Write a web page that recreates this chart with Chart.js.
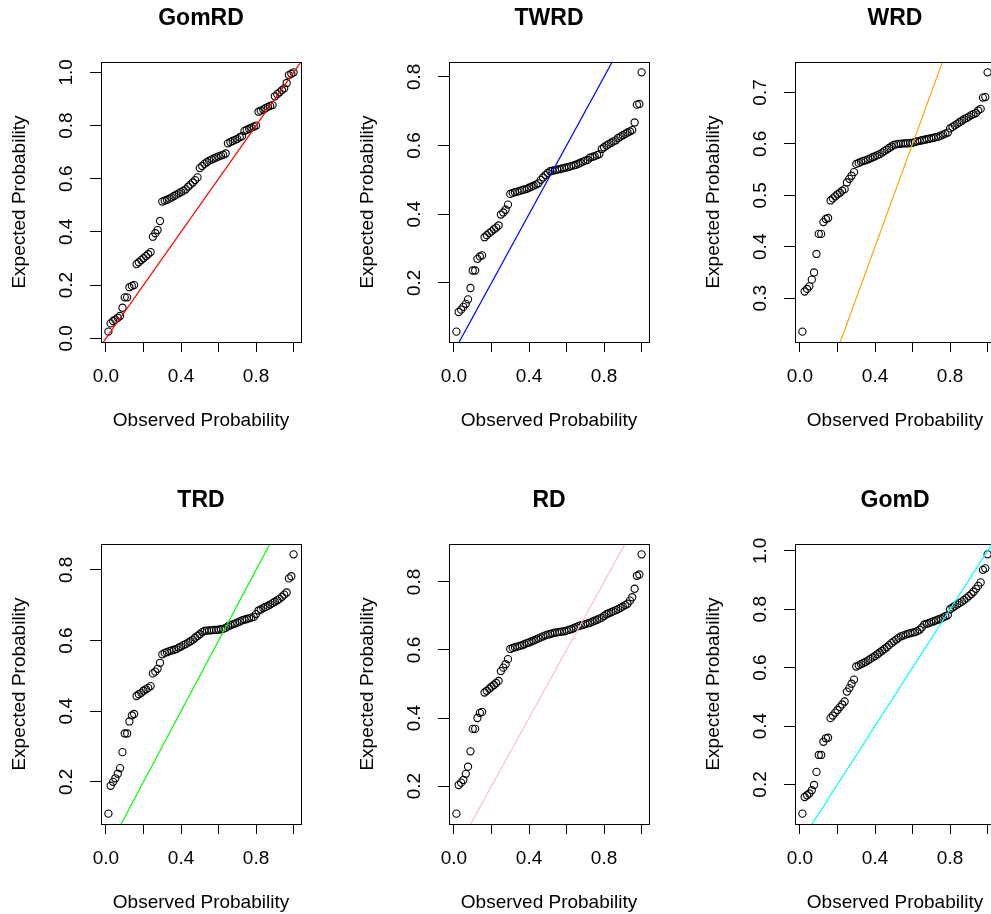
<!DOCTYPE html>
<html>
<head>
<meta charset="utf-8">
<title>P-P plots</title>
<script src="https://cdn.jsdelivr.net/npm/chart.js@4.4.1/dist/chart.umd.min.js"></script>
<style>
  html, body { margin: 0; padding: 0; background: #fff; }
  body { width: 991px; height: 914px; overflow: hidden; position: relative; }
  .panel { position: absolute; width: 347px; height: 440px; }
</style>
</head>
<body>
<div class="panel" style="left:0px;top:0px"><canvas id="c0" width="347" height="440"></canvas></div>
<div class="panel" style="left:348px;top:0px"><canvas id="c1" width="347" height="440"></canvas></div>
<div class="panel" style="left:694px;top:0px"><canvas id="c2" width="347" height="440"></canvas></div>
<div class="panel" style="left:0px;top:482px"><canvas id="c3" width="347" height="440"></canvas></div>
<div class="panel" style="left:348px;top:482px"><canvas id="c4" width="347" height="440"></canvas></div>
<div class="panel" style="left:694px;top:482px"><canvas id="c5" width="347" height="440"></canvas></div>
<script>
// Observed probabilities (same for every panel)
const observed = [
  0.013, 0.025, 0.038, 0.050, 0.063, 0.075, 0.088, 0.100, 0.113, 0.125,
  0.138, 0.150, 0.163, 0.175, 0.188, 0.200, 0.213, 0.225, 0.238, 0.250,
  0.263, 0.275, 0.288, 0.300, 0.313, 0.325, 0.338, 0.350, 0.363, 0.375,
  0.388, 0.400, 0.413, 0.425, 0.438, 0.450, 0.463, 0.475, 0.488, 0.500,
  0.513, 0.525, 0.538, 0.550, 0.563, 0.575, 0.588, 0.600, 0.613, 0.625,
  0.638, 0.650, 0.663, 0.675, 0.688, 0.700, 0.713, 0.725, 0.738, 0.750,
  0.763, 0.775, 0.788, 0.800, 0.813, 0.825, 0.838, 0.850, 0.863, 0.875,
  0.888, 0.900, 0.913, 0.925, 0.938, 0.950, 0.963, 0.975, 0.988, 1.000
];

// Expected probabilities for each fitted distribution
const gomrd = [
  0.025, 0.056, 0.065, 0.070, 0.077, 0.084, 0.115, 0.154, 0.154, 0.192,
  0.197, 0.200, 0.279, 0.286, 0.294, 0.301, 0.309, 0.316, 0.324, 0.382,
  0.395, 0.407, 0.441, 0.514, 0.518, 0.521, 0.525, 0.530, 0.535, 0.540,
  0.545, 0.550, 0.555, 0.560, 0.570, 0.578, 0.586, 0.595, 0.605, 0.640,
  0.648, 0.656, 0.662, 0.668, 0.672, 0.676, 0.680, 0.684, 0.687, 0.690,
  0.695, 0.733, 0.738, 0.742, 0.746, 0.750, 0.756, 0.760, 0.780, 0.784,
  0.788, 0.792, 0.796, 0.800, 0.852, 0.856, 0.860, 0.865, 0.870, 0.874,
  0.877, 0.910, 0.918, 0.925, 0.933, 0.940, 0.960, 0.990, 0.995, 1.000
];
const twrd = [
  0.058, 0.115, 0.122, 0.130, 0.139, 0.152, 0.185, 0.236, 0.236, 0.270,
  0.277, 0.280, 0.333, 0.339, 0.345, 0.350, 0.356, 0.361, 0.367, 0.399,
  0.405, 0.413, 0.428, 0.459, 0.462, 0.464, 0.466, 0.468, 0.470, 0.472,
  0.474, 0.477, 0.480, 0.483, 0.486, 0.490, 0.500, 0.507, 0.514, 0.520,
  0.525, 0.527, 0.528, 0.530, 0.531, 0.533, 0.535, 0.536, 0.538, 0.540,
  0.542, 0.544, 0.547, 0.550, 0.553, 0.556, 0.558, 0.565, 0.567, 0.569,
  0.572, 0.575, 0.590, 0.595, 0.600, 0.604, 0.608, 0.612, 0.615, 0.622,
  0.626, 0.630, 0.634, 0.638, 0.641, 0.645, 0.667, 0.719, 0.721, 0.813
];
const wrd = [
  0.235, 0.313, 0.318, 0.323, 0.336, 0.350, 0.386, 0.425, 0.425, 0.448,
  0.454, 0.456, 0.490, 0.494, 0.498, 0.502, 0.505, 0.509, 0.512, 0.525,
  0.532, 0.538, 0.545, 0.561, 0.563, 0.565, 0.567, 0.568, 0.570, 0.572,
  0.574, 0.576, 0.578, 0.580, 0.583, 0.586, 0.589, 0.592, 0.595, 0.598,
  0.599, 0.600, 0.600, 0.601, 0.601, 0.601, 0.602, 0.602, 0.604, 0.605,
  0.606, 0.607, 0.608, 0.609, 0.610, 0.611, 0.612, 0.613, 0.614, 0.616,
  0.618, 0.620, 0.622, 0.630, 0.633, 0.636, 0.639, 0.642, 0.645, 0.648,
  0.650, 0.653, 0.656, 0.658, 0.660, 0.665, 0.668, 0.690, 0.691, 0.739
];
const trd = [
  0.110, 0.189, 0.200, 0.210, 0.223, 0.239, 0.284, 0.337, 0.337, 0.371,
  0.388, 0.392, 0.443, 0.448, 0.452, 0.458, 0.462, 0.466, 0.471, 0.507,
  0.512, 0.520, 0.537, 0.561, 0.565, 0.567, 0.570, 0.572, 0.574, 0.576,
  0.580, 0.583, 0.587, 0.590, 0.594, 0.598, 0.602, 0.608, 0.613, 0.618,
  0.624, 0.627, 0.628, 0.629, 0.629, 0.630, 0.630, 0.631, 0.632, 0.633,
  0.636, 0.640, 0.643, 0.646, 0.648, 0.651, 0.654, 0.657, 0.659, 0.661,
  0.663, 0.665, 0.667, 0.675, 0.685, 0.688, 0.692, 0.695, 0.698, 0.702,
  0.706, 0.710, 0.714, 0.718, 0.724, 0.730, 0.736, 0.776, 0.782, 0.844
];
const rd = [
  0.119, 0.203, 0.210, 0.218, 0.236, 0.257, 0.302, 0.368, 0.368, 0.400,
  0.415, 0.418, 0.475, 0.480, 0.486, 0.492, 0.497, 0.503, 0.509, 0.538,
  0.548, 0.558, 0.573, 0.603, 0.606, 0.608, 0.610, 0.612, 0.614, 0.617,
  0.620, 0.622, 0.625, 0.628, 0.631, 0.634, 0.637, 0.640, 0.643, 0.645,
  0.647, 0.649, 0.651, 0.652, 0.653, 0.654, 0.655, 0.657, 0.659, 0.661,
  0.664, 0.667, 0.670, 0.672, 0.674, 0.676, 0.678, 0.680, 0.683, 0.686,
  0.689, 0.692, 0.695, 0.700, 0.705, 0.708, 0.711, 0.714, 0.717, 0.720,
  0.724, 0.728, 0.732, 0.736, 0.745, 0.755, 0.780, 0.818, 0.822, 0.881
];
const gomd = [
  0.100, 0.157, 0.163, 0.169, 0.180, 0.198, 0.243, 0.301, 0.301, 0.346,
  0.358, 0.360, 0.427, 0.436, 0.446, 0.455, 0.465, 0.474, 0.484, 0.518,
  0.530, 0.545, 0.559, 0.604, 0.608, 0.612, 0.616, 0.620, 0.625, 0.630,
  0.635, 0.640, 0.646, 0.652, 0.658, 0.664, 0.670, 0.677, 0.684, 0.690,
  0.696, 0.702, 0.707, 0.710, 0.713, 0.716, 0.718, 0.720, 0.722, 0.725,
  0.730, 0.738, 0.748, 0.750, 0.753, 0.756, 0.759, 0.762, 0.765, 0.768,
  0.772, 0.776, 0.780, 0.800, 0.806, 0.811, 0.816, 0.821, 0.826, 0.832,
  0.838, 0.845, 0.852, 0.860, 0.870, 0.880, 0.892, 0.935, 0.940, 0.988
];

const titles = ['GomRD', 'TWRD', 'WRD', 'TRD', 'RD', 'GomD'];
const expected = [gomrd, twrd, wrd, trd, rd, gomd];
const lineColors = ['#ff0000', '#0000ff', '#ffa500', '#00ff00', '#ffc0cb', '#00ffff'];
const yStep = [0.2, 0.2, 0.1, 0.2, 0.2, 0.2];
const xLabelled = [0, 0.4, 0.8];
const diagonal = [-0.1, 1.1]; // ends of the y = x reference line

const FONT = "'Liberation Sans', Arial, sans-serif";
Chart.defaults.color = '#000';
Chart.defaults.font.family = FONT;

// R pads the data range by 4% on each side
function rRange(arr) {
  const lo = Math.min(...arr), hi = Math.max(...arr);
  const d = (hi - lo) * 0.04;
  return [lo - d, hi + d];
}

const boxPlugin = {
  id: 'box',
  afterDraw(chart) {
    const { ctx, chartArea: a } = chart;
    ctx.save();
    ctx.strokeStyle = '#000';
    ctx.lineWidth = 1;
    ctx.strokeRect(Math.round(a.left) + 0.5, Math.round(a.top) + 0.5,
      Math.round(a.right - a.left), Math.round(a.bottom - a.top));
    ctx.restore();
  }
};

function makePanel(i) {
  const ys = expected[i];
  const [xmin, xmax] = rRange(observed);
  const [ymin, ymax] = rRange(ys);
  const ctx = document.getElementById('c' + i).getContext('2d');
  return new Chart(ctx, {
    type: 'scatter',
    data: {
      datasets: [
        {
          type: 'line',
          data: diagonal.map(v => ({ x: v, y: v })),
          borderColor: lineColors[i],
          borderWidth: 1.2,
          pointRadius: 0,
          fill: false
        },
        {
          data: observed.map((x, k) => ({ x: x, y: ys[k] })),
          pointStyle: 'circle',
          pointRadius: 3.6,
          pointBorderWidth: 1.1,
          pointBorderColor: '#000',
          pointBackgroundColor: 'rgba(0,0,0,0)',
          showLine: false
        }
      ]
    },
    options: {
      responsive: false,
      animation: false,
      devicePixelRatio: 1,
      layout: { padding: { left: 0, right: 46, top: 0, bottom: 0 } },
      plugins: {
        legend: { display: false },
        tooltip: { enabled: false },
        title: {
          display: true,
          text: titles[i],
          fullSize: false,
          color: '#000',
          font: { family: FONT, size: 23, weight: 'bold' },
          padding: { top: 5.2, bottom: 29.2 }
        }
      },
      scales: {
        x: {
          type: 'linear',
          position: 'bottom',
          min: xmin,
          max: xmax,
          afterFit: s => { s.height = 98; },
          border: { display: false },
          grid: { drawOnChartArea: false, drawTicks: true, tickLength: 10, color: '#000', lineWidth: 1 },
          ticks: {
            stepSize: 0.2,
            includeBounds: false,
            autoSkip: false,
            maxRotation: 0,
            padding: 13,
            color: '#000',
            font: { family: FONT, size: 19 },
            callback: v => xLabelled.some(t => Math.abs(t - v) < 1e-9) ? v.toFixed(1) : ''
          },
          title: {
            display: true,
            text: 'Observed Probability',
            color: '#000',
            font: { family: FONT, size: 19 },
            padding: { top: 0, bottom: 7.8 }
          }
        },
        y: {
          type: 'linear',
          position: 'left',
          min: ymin,
          max: ymax,
          afterFit: s => { s.width = 101; },
          border: { display: false },
          grid: { drawOnChartArea: false, drawTicks: true, tickLength: 11, color: '#000', lineWidth: 1 },
          ticks: {
            stepSize: yStep[i],
            includeBounds: false,
            autoSkip: false,
            minRotation: 90,
            maxRotation: 90,
            crossAlign: 'center',
            padding: 10,
            color: '#000',
            font: { family: FONT, size: 19 },
            callback: v => v.toFixed(1)
          },
          title: {
            display: true,
            text: 'Expected Probability',
            color: '#000',
            font: { family: FONT, size: 19 },
            padding: { top: 8.6, bottom: 0 }
          }
        }
      }
    },
    plugins: [boxPlugin]
  });
}

titles.forEach((t, i) => makePanel(i));
</script>
</body>
</html>
